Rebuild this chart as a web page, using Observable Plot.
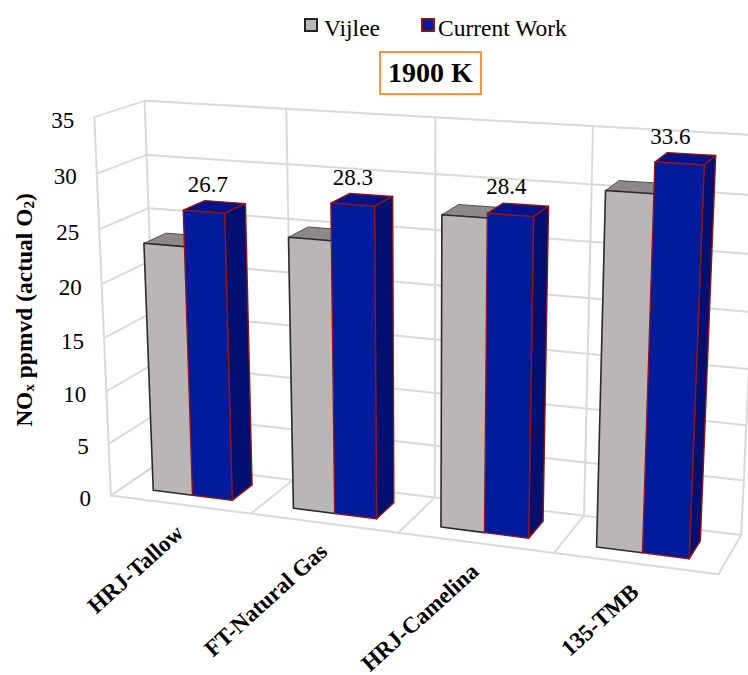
<!DOCTYPE html>
<html>
<head>
<meta charset="utf-8">
<script src="https://cdn.jsdelivr.net/npm/d3@7"></script>
<script src="https://cdn.jsdelivr.net/npm/@observablehq/plot@0.6"></script>
<style>
  html, body { margin: 0; padding: 0; background: #fff; overflow: hidden; }
  #page { position: relative; width: 748px; height: 675px; font-family: "Liberation Serif", serif; color: #000; }
  #head { position: relative; height: 96px; }
  .swatch { position: absolute; top: 18px; width: 10px; height: 10px; border-style: solid; border-width: 2.5px; }
  .key { position: absolute; top: 15px; font-size: 23.5px; line-height: 27px; }
  #badge { position: absolute; left: 379px; top: 51px; width: 99px; height: 40px; border: 2px solid #f79646;
           font-weight: bold; font-size: 28px; line-height: 40px; text-align: center; }
  #ytitle { position: absolute; left: 24px; top: 310px; transform: translate(-50%, -50%) rotate(-90deg);
            white-space: nowrap; font-weight: bold; font-size: 23.5px; line-height: 24px; z-index: 2; }
  #ytitle sub { font-size: 15px; line-height: 0; vertical-align: -2px; }
  svg { display: block; }
</style>
</head>
<body>
<div id="page">
  <div id="head">
    <span class="swatch" style="left:304px;background:#bab6b6;border-color:#222"></span>
    <span class="key" style="left:324px">Vijlee</span>
    <span class="swatch" style="left:421px;background:#001a9c;border-color:#8a1414"></span>
    <span class="key" style="left:438px">Current Work</span>
    <div id="badge">1900 K</div>
  </div>
  <div id="ytitle">NO<sub>x</sub> ppmvd (actual O<sub>2</sub>)</div>
  <div id="chart"></div>
</div>
<script>
// Chart values
const categories = ["HRJ-Tallow", "FT-Natural Gas", "HRJ-Camelina", "135-TMB"];
const vijlee = [23.4, 25.0, 28.0, 31.0];
const currentWork = [26.7, 28.3, 28.4, 33.6];
const valueTicks = [0, 5, 10, 15, 20, 25, 30, 35];
const zMax = 35;

// Bar footprint inside one category cell (u across, v front to back)
const barLeft = 0.215, barMid = 0.5, barRight = 0.785;
const depthFront = 0.27, depthBack = 0.73;

// Camera calibration: [u, v, z] on the box and where it lands on the page.
// The front-left edge carries the value labels, so its points appear more than once.
const calibration = [
  [0, 0, 0, 110, 495], [1, 0, 0, 252, 513], [2, 0, 0, 400, 533], [3, 0, 0, 553, 553], [4, 0, 0, 717, 575],
  [0, 0, 35, 92, 117], [0, 0, 35, 92, 117], [0, 0, 35, 92, 117], [0, 0, 20, 103, 283],
  [0, 1, 35, 146, 101], [1, 1, 35, 287, 109], [2, 1, 35, 436, 116], [3, 1, 35, 592, 125], [4, 1, 35, 760, 134],
  [0, 1, 0, 153, 462], [3, 1, 0, 582, 515], [4, 1, 0, 742, 535],
  [0.5, 0.27, 0, 193, 493], [0.5, 0.27, 26.7, 184, 210],
  [0.785, 0.73, 0, 253, 485], [0.785, 0.73, 26.7, 246, 204],
  [3.5, 0.27, 0, 642, 552], [3.5, 0.27, 33.6, 654, 160],
  [3.785, 0.27, 0, 689, 557], [3.785, 0.27, 33.6, 704, 164],
  [3.785, 0.73, 0, 699, 542], [3.785, 0.73, 33.6, 713, 156]
];

// Least-squares fit of a 3x4 projective camera (last coefficient fixed at 1)
function fitCamera(points) {
  const A = [], b = [];
  for (const [u, v, z, x, y] of points) {
    const w = z / zMax;
    A.push([u, v, w, 1, 0, 0, 0, 0, -x * u, -x * v, -x * w]); b.push(x);
    A.push([0, 0, 0, 0, u, v, w, 1, -y * u, -y * v, -y * w]); b.push(y);
  }
  const n = 11;
  const M = d3.range(n).map(i => [
    ...d3.range(n).map(j => d3.sum(A, r => r[i] * r[j])),
    d3.sum(A, (r, k) => r[i] * b[k])
  ]);
  for (let c = 0; c < n; c++) {
    let p = c;
    for (let r = c + 1; r < n; r++) if (Math.abs(M[r][c]) > Math.abs(M[p][c])) p = r;
    [M[c], M[p]] = [M[p], M[c]];
    for (let r = 0; r < n; r++) {
      if (r === c) continue;
      const f = M[r][c] / M[c][c];
      for (let k = c; k <= n; k++) M[r][k] -= f * M[c][k];
    }
  }
  return M.map((row, i) => row[n] / row[i]);
}
const cam = fitCamera(calibration);
function project(u, v, z) {
  const w = z / zMax;
  const d = cam[8] * u + cam[9] * v + cam[10] * w + 1;
  return {
    x: (cam[0] * u + cam[1] * v + cam[2] * w + cam[3]) / d,
    y: (cam[4] * u + cam[5] * v + cam[6] * w + cam[7]) / d
  };
}

const gridStyle = {x: "x", y: "y", stroke: "#dadada", strokeWidth: 2, curve: "linear"};
const segment = (a, b) => Plot.line([project(...a), project(...b)], gridStyle);

const marks = [];

// Box: back wall, left wall and floor
for (const z of valueTicks) {
  marks.push(segment([0, 1, z], [categories.length, 1, z]));
  marks.push(segment([0, 0, z], [0, 1, z]));
}
for (let u = 0; u <= categories.length; u++) {
  marks.push(segment([u, 1, 0], [u, 1, zMax]));
  marks.push(segment([u, 0, 0], [u, 1, 0]));
}
marks.push(segment([0, 0, 0], [0, 0, zMax]));
marks.push(segment([0, 0, 0], [categories.length, 0, 0]));

function face(corners, fill, stroke, strokeWidth) {
  const pts = corners.map(c => project(...c));
  pts.push(pts[0]);
  return Plot.line(pts, {x: "x", y: "y", fill, stroke: stroke || "none", strokeWidth: strokeWidth || 0, curve: "linear"});
}

// Bars, drawn left to right with the grey bar behind the blue one
categories.forEach((name, i) => {
  const a = i + barLeft, m = i + barMid, c = i + barRight;
  const g = vijlee[i], h = currentWork[i];
  const vf = depthFront, vb = depthBack;

  marks.push(face([[a, vf, g], [m, vf, g], [m, vb, g], [a, vb, g]], "#8d8989", "#55504f", 1));
  marks.push(face([[a, vf, 0], [m, vf, 0], [m, vf, g], [a, vf, g]], "#bab6b6"));
  marks.push(Plot.line(
    [[m, vf, g], [a, vf, g], [a, vf, 0], [m, vf, 0]].map(c => project(...c)),
    {x: "x", y: "y", stroke: "#2a2a2a", strokeWidth: 1.6, curve: "linear"}
  ));

  const edge = "#8f1616";
  marks.push(face([[m, vf, h], [c, vf, h], [c, vb, h], [m, vb, h]], "#00128a", edge, 1.4));
  marks.push(face([[c, vf, 0], [c, vb, 0], [c, vb, h], [c, vf, h]], "#000f70", edge, 1.4));
  marks.push(face([[m, vf, 0], [c, vf, 0], [c, vf, h], [m, vf, h]], "#001a9c", edge, 1.4));
});

const serif = "Liberation Serif";

// Value axis labels along the front-left edge of the box
marks.push(Plot.text(valueTicks.map(z => ({...project(0, 0, z), z})), {
  x: "x", y: "y", text: d => String(d.z), textAnchor: "end", dx: -20, dy: 3,
  fontFamily: serif, fontSize: 23, fill: "#000"
}));

// Value labels over the blue bars
marks.push(Plot.text(currentWork.map((h, i) => ({...project(i + barMid, depthBack, h), h})), {
  x: "x", y: "y", text: d => d.h.toFixed(1), dx: 3, dy: -16,
  fontFamily: serif, fontSize: 23, fill: "#000"
}));

// Slanted category labels under the floor
marks.push(Plot.text(categories.map((name, i) => ({...project(i + 0.5, 0, 0), name})), {
  x: "x", y: "y", text: "name", textAnchor: "end", rotate: -42, dy: 25,
  fontFamily: serif, fontSize: 23, fontWeight: "bold", fill: "#000"
}));

const chart = Plot.plot({
  width: 748,
  height: 579,
  margin: 0,
  x: {domain: [0, 748], range: [0, 748], axis: null},
  y: {domain: [96, 675], range: [0, 579], axis: null},
  style: {background: "transparent"},
  marks
});
document.getElementById("chart").appendChild(chart);
</script>
</body>
</html>
